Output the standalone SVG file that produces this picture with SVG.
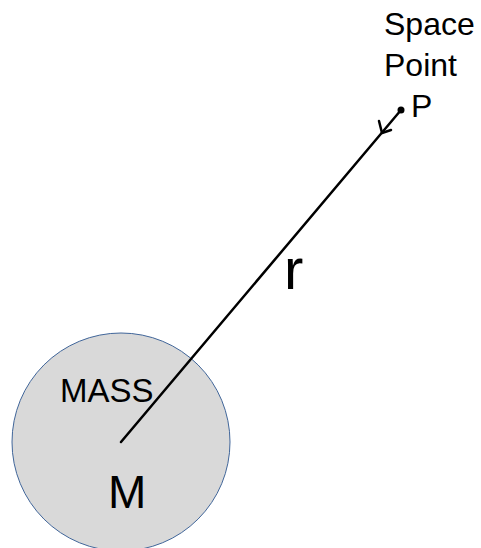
<svg xmlns="http://www.w3.org/2000/svg" width="481" height="548" viewBox="0 0 481 548">
<style>
.t{font-family:"Liberation Sans",Arial,sans-serif;fill:#000}
.conn{stroke:#000;stroke-width:2.5;fill:none;stroke-linecap:round}
</style>
<rect width="481" height="548" fill="#fff"/>
<g id="mass">
<circle cx="121" cy="442" r="109" fill="#d9d9d9" stroke="#41669a" stroke-width="1"/>
<text class="t" x="60" y="402" font-size="33">MASS</text>
<text class="t" x="108" y="508" font-size="46">M</text>
</g>
<g id="point">
<circle cx="401" cy="110" r="3.5" fill="#000"/>
<text class="t" x="384" y="35" font-size="32">Space</text>
<text class="t" x="384" y="76" font-size="32">Point</text>
<text class="t" x="411" y="117" font-size="32">P</text>
</g>
<g id="connectors">
<line class="conn" x1="121" y1="442" x2="401" y2="110"/>
<polyline class="conn" points="379,121 382,133 391,130" stroke-linejoin="round"/>
<text class="t" x="284" y="289" font-size="58">r</text>
</g>
</svg>
